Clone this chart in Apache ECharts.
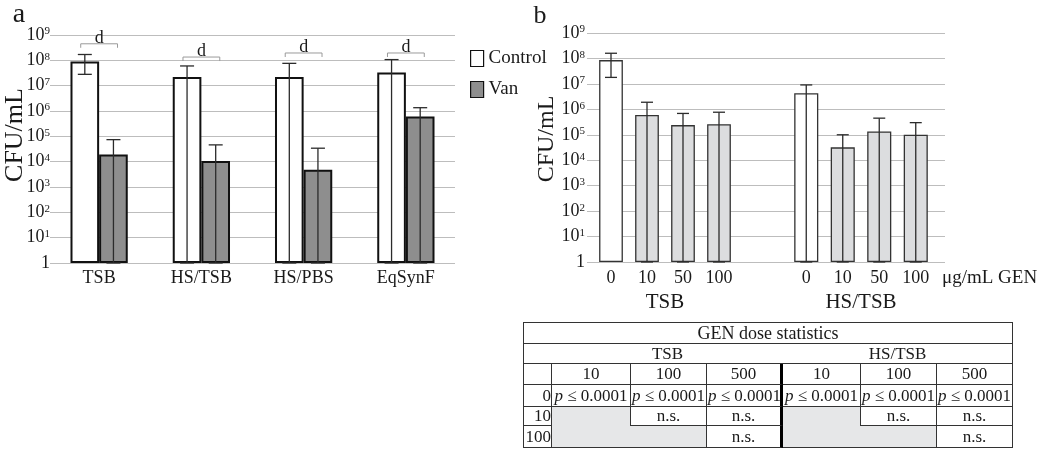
<!DOCTYPE html>
<html><head><meta charset="utf-8">
<script src="https://cdn.jsdelivr.net/npm/echarts@6/dist/echarts.min.js"></script>
<style>
html,body{margin:0;padding:0;background:#fff;}
#chart{position:absolute;left:0;top:0;width:1050px;height:456px;}
#stats{position:absolute;left:523px;top:322px;border-collapse:separate;border-spacing:0;table-layout:fixed;width:490px;
  border-left:1px solid #333;border-top:1px solid #333;font-family:"Liberation Serif","DejaVu Serif",serif;font-size:17px;color:#1a1a1a;}
#stats td{border-right:1px solid #333;border-bottom:1px solid #333;padding:0 1px;text-align:center;line-height:16px;white-space:nowrap;overflow:visible;box-sizing:border-box;}
#stats td.title{font-size:18px;}
#stats td.nr{border-right:none;}
#stats td.nb{border-bottom:none;}
#stats td.thick{border-right:3px solid #000;}
#stats td.shade{background:#e6e7e8;}
#stats td.rl{text-align:right;padding:0;}
</style></head>
<body>
<div id="chart"></div>
<table id="stats"></table>
<script>
// ---------- DATA ----------
// Panel a
const groupsA = ['TSB', 'HS/TSB', 'HS/PBS', 'EqSynF'];
const controlA = [8.9e7, 2.2e7, 2.2e7, 3.3e7];
const controlA_low = [2.8e7, 1, 1, 1];
const controlA_high = [1.7e8, 6.0e7, 7.6e7, 1.07e8];
const vanA = [1.9e4, 1.07e4, 4.8e3, 6.0e5];
const vanA_low = [1, 1, 1, 1];
const vanA_high = [7.4e4, 4.6e4, 3.4e4, 1.35e6];
const sigLabelA = ['d', 'd', 'd', 'd'];
const sigLevelA = [4.5e8, 1.35e8, 1.95e8, 1.95e8];
const legendA = ['Control', 'Van'];

// Panel b
const dosesB = ['0', '10', '50', '100'];
const mediaB = ['TSB', 'HS/TSB'];
const tsbB = [8.6e7, 6.0e5, 2.4e5, 2.6e5];
const tsbB_low = [1.8e7, 1, 1, 1];
const tsbB_high = [1.6e8, 1.9e6, 6.9e5, 7.7e5];
const hsB = [4.3e6, 3.2e4, 1.35e5, 1.0e5];
const hsB_low = [1, 1, 1, 1];
const hsB_high = [9.1e6, 1.0e5, 4.5e5, 3.0e5];
const doseUnit = 'μg/mL GEN';
const yTitle = 'CFU/mL';

// Statistics table
const statsTitle = 'GEN dose statistics';
const statsMedia = ['TSB', 'HS/TSB'];
const statsColDoses = ['10', '100', '500'];
const statsRowDoses = ['0', '10', '100'];
const statsTSB = [
  ['p ≤ 0.0001', 'p ≤ 0.0001', 'p ≤ 0.0001'],
  [null, 'n.s.', 'n.s.'],
  [null, null, 'n.s.']
];
const statsHS = [
  ['p ≤ 0.0001', 'p ≤ 0.0001', 'p ≤ 0.0001'],
  [null, 'n.s.', 'n.s.'],
  [null, null, 'n.s.']
];

// ---------- STYLE ----------
const FONT = '"Liberation Serif", "DejaVu Serif", serif';
const TXT = '#1a1a1a';
const GRIDLINE = '#bdbdbd';

function logLabel(v) {
  const e = Math.round(Math.log10(v));
  return e === 0 ? '1' : '10{s|' + e + '}';
}
function logAxis(gridIndex, visible, margin) {
  if (!visible) return { type: 'log', logBase: 10, min: 1, max: 1e9, splitNumber: 9, gridIndex, show: false };
  return {
    type: 'log', logBase: 10, min: 1, max: 1e9, splitNumber: 9, gridIndex,
    axisLine: { show: false },
    axisTick: { show: true, length: 3, lineStyle: { color: GRIDLINE } },
    axisLabel: {
      margin, formatter: logLabel, color: TXT, fontFamily: FONT, fontSize: 18,
      rich: { s: { fontSize: 11, fontFamily: FONT, color: TXT, verticalAlign: 'top', padding: [0, 0, 7, 0] } }
    },
    splitLine: { show: true, lineStyle: { color: GRIDLINE, width: 1 } }
  };
}
function catAxis(gridIndex, data, margin, name) {
  const ax = {
    type: 'category', gridIndex, data,
    axisLine: { show: false }, axisTick: { show: false },
    axisLabel: { margin, color: TXT, fontFamily: FONT, fontSize: 18, interval: 0 }
  };
  if (name) {
    ax.name = name; ax.nameLocation = 'middle'; ax.nameGap = 24;
    ax.nameTextStyle = { color: TXT, fontFamily: FONT, fontSize: 21 };
  }
  return ax;
}
function errorBars(name, xIdx, yIdx, low, high, offsetFrac, cap) {
  return {
    type: 'custom', name, xAxisIndex: xIdx, yAxisIndex: yIdx, z: 5, silent: true,
    data: low.map((l, i) => [i, l, high[i]]),
    encode: { x: 0, y: [1, 2] },
    renderItem(params, api) {
      const i = api.value(0);
      const band = api.size([1, 0])[0];
      const pLo = api.coord([i, api.value(1)]);
      const pHi = api.coord([i, api.value(2)]);
      const x = pLo[0] + offsetFrac * band;
      const st = { stroke: '#2b2b2b', lineWidth: 1.3 };
      return { type: 'group', children: [
        { type: 'line', shape: { x1: x, y1: pLo[1], x2: x, y2: pHi[1] }, style: st },
        { type: 'line', shape: { x1: x - cap / 2, y1: pHi[1], x2: x + cap / 2, y2: pHi[1] }, style: st },
        { type: 'line', shape: { x1: x - cap / 2, y1: pLo[1], x2: x + cap / 2, y2: pLo[1] }, style: st }
      ] };
    }
  };
}

const gapA = 0.44;
const halfA = (1 - gapA) / 4;

const option = {
  animation: false,
  grid: [
    { left: 53, top: 35, width: 402, height: 228 },   // panel a gridlines
    { left: 48, top: 35, width: 409, height: 228 },   // panel a bars
    { left: 590, top: 33, width: 355, height: 229 },  // panel b gridlines
    { left: 593, top: 33, width: 144, height: 229 },  // panel b TSB
    { left: 788, top: 33, width: 146, height: 229 }   // panel b HS/TSB
  ],
  xAxis: [
    { type: 'category', gridIndex: 0, data: [''], show: false },
    catAxis(1, groupsA, 6),
    { type: 'category', gridIndex: 2, data: [''], show: false },
    catAxis(3, dosesB, 7, mediaB[0]),
    catAxis(4, dosesB, 7, mediaB[1])
  ],
  yAxis: [
    logAxis(0, true, 3),
    logAxis(1, false),
    logAxis(2, true, 5),
    logAxis(3, false),
    logAxis(4, false)
  ],
  legend: {
    data: legendA, orient: 'vertical', left: 470, top: 49, padding: 0, itemWidth: 13, itemHeight: 16, itemGap: 12,
    icon: 'rect', selectedMode: false,
    textStyle: { fontFamily: FONT, fontSize: 19, color: TXT },
    itemStyle: { borderWidth: 1.2 }
  },
  series: [
    { type: 'bar', name: legendA[0], xAxisIndex: 1, yAxisIndex: 1, data: controlA, barGap: '0%', barCategoryGap: (gapA * 100) + '%',
      itemStyle: { color: '#ffffff', borderColor: '#111', borderWidth: 2 } },
    { type: 'bar', name: legendA[1], xAxisIndex: 1, yAxisIndex: 1, data: vanA,
      itemStyle: { color: '#8e8e8e', borderColor: '#111', borderWidth: 2 } },
    errorBars('errControl', 1, 1, controlA_low, controlA_high, -halfA, 14),
    errorBars('errVan', 1, 1, vanA_low, vanA_high, halfA, 14),
    {
      type: 'custom', name: 'sig', xAxisIndex: 1, yAxisIndex: 1, z: 6, silent: true,
      data: sigLevelA.map((v, i) => [i, v]),
      encode: { x: 0, y: 1 },
      renderItem(params, api) {
        const i = api.value(0);
        const band = api.size([1, 0])[0];
        const p = api.coord([i, api.value(1)]);
        const hw = 0.18 * band;
        return { type: 'group', children: [
          { type: 'polyline', shape: { points: [[p[0] - hw, p[1] + 4], [p[0] - hw, p[1]], [p[0] + hw, p[1]], [p[0] + hw, p[1] + 4]] },
            style: { stroke: '#9a9a9a', lineWidth: 1, fill: null } },
          { type: 'text', x: p[0], y: p[1] + 3,
            style: { text: sigLabelA[params.dataIndex], font: '18px ' + FONT, fill: TXT, align: 'center', verticalAlign: 'bottom' } }
        ] };
      }
    },
    { type: 'bar', name: 'GEN ' + mediaB[0], xAxisIndex: 3, yAxisIndex: 3, barCategoryGap: '34%',
      data: tsbB.map((v, i) => ({ value: v, itemStyle: { color: i === 0 ? '#ffffff' : '#dcdddf' } })),
      itemStyle: { borderColor: '#333', borderWidth: 1.3 } },
    { type: 'bar', name: 'GEN ' + mediaB[1], xAxisIndex: 4, yAxisIndex: 4, barCategoryGap: '34%',
      data: hsB.map((v, i) => ({ value: v, itemStyle: { color: i === 0 ? '#ffffff' : '#dcdddf' } })),
      itemStyle: { borderColor: '#333', borderWidth: 1.3 } },
    errorBars('errTSB', 3, 3, tsbB_low, tsbB_high, 0, 12),
    errorBars('errHS', 4, 4, hsB_low, hsB_high, 0, 12)
  ],
  graphic: [
    { type: 'text', x: 19, y: 15, style: { text: 'a', font: '28px ' + FONT, fill: TXT, align: 'center', verticalAlign: 'middle' } },
    { type: 'text', x: 540, y: 16, style: { text: 'b', font: '26px ' + FONT, fill: TXT, align: 'center', verticalAlign: 'middle' } },
    { type: 'text', x: 15, y: 135, rotation: Math.PI / 2, style: { text: yTitle, font: '26px ' + FONT, fill: TXT, align: 'center', verticalAlign: 'middle' } },
    { type: 'text', x: 547, y: 139, rotation: Math.PI / 2, style: { text: yTitle, font: '24px ' + FONT, fill: TXT, align: 'center', verticalAlign: 'middle' } },
    { type: 'text', x: 942, y: 278, style: { text: doseUnit, font: '19px ' + FONT, fill: TXT, align: 'left', verticalAlign: 'middle' } }
  ]
};

const chart = echarts.init(document.getElementById('chart'), null, { renderer: 'canvas' });
chart.setOption(option);

// ---------- TABLE ----------
(function buildTable() {
  const colW = [28, 79, 76, 76, 78, 76, 76];
  const rowH = [21, 20, 21, 22, 19, 22];
  const fmt = s => s.replace(/^p /, '<i>p</i> ');
  const last = statsColDoses.length - 1;
  let h = '<colgroup>' + colW.map(w => '<col style="width:' + w + 'px">').join('') + '</colgroup>';
  h += '<tr style="height:' + rowH[0] + 'px"><td class="title" colspan="' + (1 + 2 * statsColDoses.length) + '">' + statsTitle + '</td></tr>';
  h += '<tr style="height:' + rowH[1] + 'px"><td class="nr"></td>' +
    statsMedia.map((m, k) => '<td colspan="' + statsColDoses.length + '"' + (k === 0 ? ' class="nr"' : '') + '>' + m + '</td>').join('') + '</tr>';
  h += '<tr style="height:' + rowH[2] + 'px"><td></td>';
  statsMedia.forEach((m, k) => statsColDoses.forEach((d, j) => {
    h += '<td' + (k === 0 && j === last ? ' class="thick"' : '') + '>' + d + '</td>';
  }));
  h += '</tr>';
  statsRowDoses.forEach((rd, r) => {
    h += '<tr style="height:' + rowH[3 + r] + 'px"><td class="rl">' + rd + '</td>';
    [statsTSB, statsHS].forEach((tbl, k) => {
      tbl[r].forEach((v, j) => {
        const cls = [];
        if (v === null) {
          cls.push('shade');
          if (j < last && tbl[r][j + 1] === null) cls.push('nr');
          if (r + 1 < tbl.length && tbl[r + 1][j] === null) cls.push('nb');
        }
        if (k === 0 && j === last) cls.push('thick');
        h += '<td class="' + cls.join(' ') + '">' + (v === null ? '' : fmt(v)) + '</td>';
      });
    });
    h += '</tr>';
  });
  document.getElementById('stats').innerHTML = h;
})();
</script>
</body></html>
